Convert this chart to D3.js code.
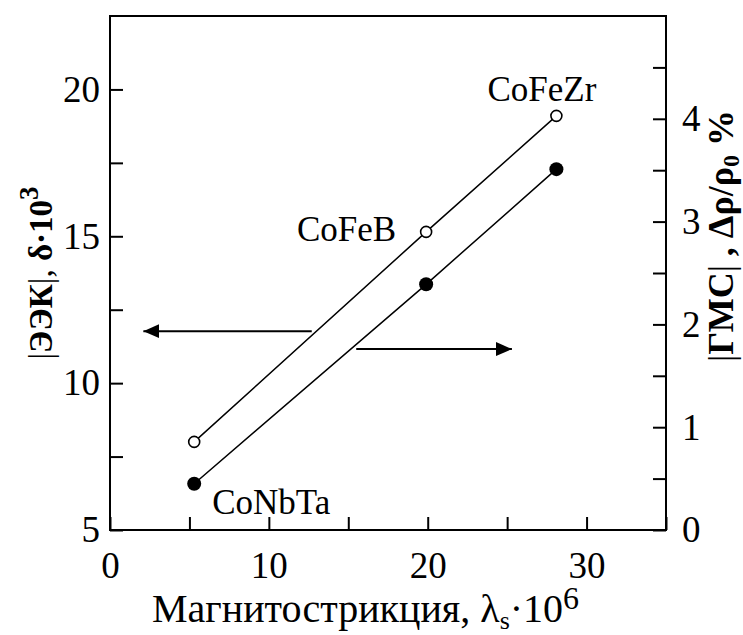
<!DOCTYPE html>
<html>
<head>
<meta charset="utf-8">
<script src="https://cdn.jsdelivr.net/npm/d3@7"></script>
<style>
  body { margin: 0; background: #fff; }
  svg { display: block; }
  svg text { font-family: "Liberation Serif", "Times New Roman", Times, serif; }
</style>
</head>
<body>
<svg id="chart" width="743" height="635"></svg>
<script>
// Data
const alloys = ["CoNbTa", "CoFeB", "CoFeZr"];
const lambdaS = [5.3, 19.9, 28.1];      // magnetostriction, x 10^6
const eek = [8.0, 15.15, 19.1];          // |EEK|, delta x 10^3 (left axis, open circles)
const gmc = [0.45, 2.39, 3.51];          // |GMC|, %, (right axis, filled circles)

const xTicks = [0, 5, 10, 15, 20, 25, 30, 35];
const xLabels = [0, 10, 20, 30];
const yLeftTicks = [5, 7.5, 10, 12.5, 15, 17.5, 20];
const yLeftLabels = [5, 10, 15, 20];
const yRightTicks = [0, 0.5, 1, 1.5, 2, 2.5, 3, 3.5, 4, 4.5];
const yRightLabels = [0, 1, 2, 3, 4];

// arrows pointing at the axis each curve belongs to: [x from, x to, y value]
const arrowLeft = [12.7, 2.1, 11.77];
const arrowRight = [15.5, 25.3, 1.76];

const margin = { top: 16, right: 77, bottom: 105, left: 110 };
const width = 743 - margin.left - margin.right;
const height = 635 - margin.top - margin.bottom;

const svg = d3.select("#chart");
const g = svg.append("g").attr("transform", `translate(${margin.left},${margin.top})`);

const x = d3.scaleLinear().domain([0, 35]).range([0, width]);
const yL = d3.scaleLinear().domain([5, 22.5]).range([height, 0]);
const yR = d3.scaleLinear().domain([0, 5]).range([height, 0]);

const fmt = labels => d => labels.includes(d) ? d : "";

const xAxis = g.append("g")
  .attr("transform", `translate(0,${height})`)
  .call(d3.axisBottom(x).tickValues(xTicks).tickSize(-13).tickPadding(22).tickFormat(fmt(xLabels)));

const leftAxis = g.append("g")
  .call(d3.axisLeft(yL).tickValues(yLeftTicks).tickSize(-13).tickPadding(10).tickFormat(fmt(yLeftLabels)));

const rightAxis = g.append("g")
  .attr("transform", `translate(${width},0)`)
  .call(d3.axisRight(yR).tickValues(yRightTicks).tickSize(-13).tickPadding(16).tickFormat(fmt(yRightLabels)));

[xAxis, leftAxis, rightAxis].forEach(a => {
  a.attr("font-family", null).attr("font-size", null);
  a.select(".domain").remove();
  a.selectAll(".tick line").attr("stroke", "#000").attr("stroke-width", 2);
  a.selectAll(".tick text")
    .attr("fill", "#000")
    .style("font-size", "37px");
});

// frame
g.append("rect")
  .attr("width", width)
  .attr("height", height)
  .attr("fill", "none")
  .attr("stroke", "#000")
  .attr("stroke-width", 2);

// lines
const lineL = d3.line().x((d, i) => x(lambdaS[i])).y(d => yL(d));
const lineR = d3.line().x((d, i) => x(lambdaS[i])).y(d => yR(d));

g.append("path").datum(eek).attr("d", lineL)
  .attr("fill", "none").attr("stroke", "#000").attr("stroke-width", 1.5);
g.append("path").datum(gmc).attr("d", lineR)
  .attr("fill", "none").attr("stroke", "#000").attr("stroke-width", 1.5);

g.selectAll(".open").data(eek).join("circle")
  .attr("class", "open")
  .attr("cx", (d, i) => x(lambdaS[i]))
  .attr("cy", d => yL(d))
  .attr("r", 5.5)
  .attr("fill", "#fff")
  .attr("stroke", "#000")
  .attr("stroke-width", 1.6);

g.selectAll(".filled").data(gmc).join("circle")
  .attr("class", "filled")
  .attr("cx", (d, i) => x(lambdaS[i]))
  .attr("cy", d => yR(d))
  .attr("r", 7)
  .attr("fill", "#000");

// arrows
const defs = svg.append("defs");
defs.append("marker")
  .attr("id", "head")
  .attr("viewBox", "0 0 16 14")
  .attr("refX", 16).attr("refY", 7)
  .attr("markerWidth", 16).attr("markerHeight", 14)
  .attr("markerUnits", "userSpaceOnUse")
  .attr("orient", "auto")
  .append("path").attr("d", "M0,0 L16,7 L0,14 Z").attr("fill", "#000");

g.append("line")
  .attr("x1", x(arrowLeft[0])).attr("x2", x(arrowLeft[1]))
  .attr("y1", yL(arrowLeft[2])).attr("y2", yL(arrowLeft[2]))
  .attr("stroke", "#000").attr("stroke-width", 2)
  .attr("marker-end", "url(#head)");

g.append("line")
  .attr("x1", x(arrowRight[0])).attr("x2", x(arrowRight[1]))
  .attr("y1", yR(arrowRight[2])).attr("y2", yR(arrowRight[2]))
  .attr("stroke", "#000").attr("stroke-width", 2)
  .attr("marker-end", "url(#head)");

// alloy labels
const lbl = g.append("g").style("font-size", "35px").attr("fill", "#000");
lbl.append("text").attr("x", x(lambdaS[0]) + 18).attr("y", yR(gmc[0]) + 30).text(alloys[0]);
lbl.append("text").attr("x", x(lambdaS[1]) - 30).attr("y", yL(eek[1]) + 9)
  .attr("text-anchor", "end").text(alloys[1]);
lbl.append("text").attr("x", x(lambdaS[2]) + 40).attr("y", yL(eek[2]) - 15)
  .attr("text-anchor", "end").text(alloys[2]);

// x title
const xt = svg.append("text").attr("x", 152).attr("y", 622).style("font-size", "40px");
xt.append("tspan").text("Магнитострикция, λ");
xt.append("tspan").attr("dy", 7).style("font-size", "26px").text("s");
xt.append("tspan").attr("dy", -7).text("·10");
xt.append("tspan").attr("dy", -13).style("font-size", "32px").text("6");

// left title
const lt = svg.append("text")
  .attr("transform", "translate(52,273) rotate(-90)")
  .attr("text-anchor", "middle")
  .style("font-size", "33px");
lt.append("tspan").text("|");
lt.append("tspan").style("font-weight", "bold").text("ЭЭК");
lt.append("tspan").text("|, ");
lt.append("tspan").style("font-weight", "bold").text("δ·10");
lt.append("tspan").attr("dy", -14).style("font-weight", "bold").style("font-size", "27px").text("3");

// right title
const rt = svg.append("text")
  .attr("transform", "translate(733,236) rotate(-90)")
  .attr("text-anchor", "middle")
  .style("font-size", "36px");
rt.append("tspan").text("|");
rt.append("tspan").style("font-weight", "bold").text("ГМС");
rt.append("tspan").text("|");
rt.append("tspan").style("font-weight", "bold").text(" , Δρ/ρ");
rt.append("tspan").attr("dy", 6).style("font-weight", "bold").style("font-size", "24px").text("0");
rt.append("tspan").attr("dy", -6).style("font-weight", "bold").text(" %");
</script>
</body>
</html>
